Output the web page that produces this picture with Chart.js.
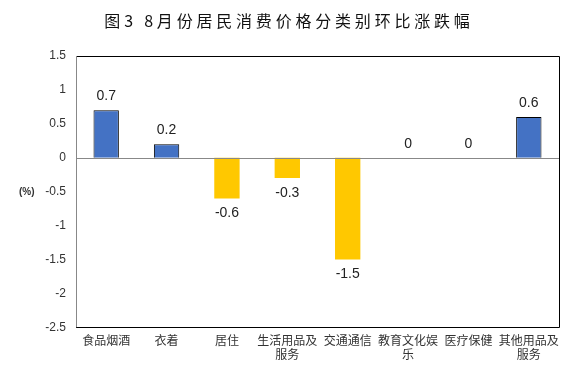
<!DOCTYPE html>
<html>
<head>
<meta charset="utf-8">
<script src="https://cdn.jsdelivr.net/npm/chart.js@4/dist/chart.umd.min.js"></script>
<style>
  html, body { margin: 0; padding: 0; background: #fff; }
  #wrap { width: 574px; height: 374px; }
</style>
</head>
<body>
<div id="wrap"><canvas id="chart"></canvas></div>
<script>
const titleText = "图3 8月份居民消费价格分类别环比涨跌幅";
const categories = [
  "食品烟酒", "衣着", "居住", ["生活用品及", "服务"],
  "交通通信", ["教育文化娱", "乐"], "医疗保健", ["其他用品及", "服务"]
];
const values = [0.7, 0.2, -0.6, -0.3, -1.5, 0, 0, 0.6];
const yTicks = [1.5, 1, 0.5, 0, -0.5, -1, -1.5, -2, -2.5];

const numFont = "'Liberation Sans', Arial, sans-serif";
const cjkFont = "'Noto Sans CJK SC', sans-serif";

const barColors = values.map(v => v >= 0 ? "#4472C4" : "#FFC800");
const borderWidths = values.map(v => v > 0 ? 1 : 0);

const extras = {
  id: "extras",
  afterDatasetsDraw(chart) {
    const ctx = chart.ctx;
    const area = chart.chartArea;
    const y = chart.scales.y;
    const meta = chart.getDatasetMeta(0);
    ctx.save();
    // title
    ctx.fillStyle = "#111";
    ctx.font = "16px " + cjkFont;
    ctx.letterSpacing = "3.8px";
    ctx.textAlign = "center";
    ctx.textBaseline = "middle";
    ctx.fillText(titleText, 289, 21);
    ctx.letterSpacing = "0px";
    // zero line
    const y0 = y.getPixelForValue(0);
    ctx.strokeStyle = "#888";
    ctx.lineWidth = 1;
    ctx.beginPath();
    ctx.moveTo(area.left, Math.round(y0) + 0.5);
    ctx.lineTo(area.right, Math.round(y0) + 0.5);
    ctx.stroke();
    // frame
    ctx.strokeStyle = "#000";
    ctx.beginPath();
    ctx.moveTo(area.left, Math.round(area.top) + 0.5);
    ctx.lineTo(Math.round(area.right) + 0.5, Math.round(area.top) + 0.5);
    ctx.lineTo(Math.round(area.right) + 0.5, Math.round(area.bottom) + 0.5);
    ctx.lineTo(area.left, Math.round(area.bottom) + 0.5);
    ctx.stroke();
    ctx.strokeStyle = "#888";
    ctx.beginPath();
    ctx.moveTo(Math.round(area.left) + 0.5, area.top);
    ctx.lineTo(Math.round(area.left) + 0.5, area.bottom);
    ctx.stroke();
    // value labels
    ctx.fillStyle = "#222";
    ctx.font = "14px " + numFont;
    ctx.textAlign = "center";
    meta.data.forEach((bar, i) => {
      const v = values[i];
      if (v < 0) {
        ctx.textBaseline = "top";
        ctx.fillText(String(v), bar.x, bar.y + 8);
      } else {
        ctx.textBaseline = "bottom";
        ctx.fillText(String(v), bar.x, bar.y - 7);
      }
    });
    // unit label
    ctx.font = "bold 10px " + numFont;
    ctx.textAlign = "left";
    ctx.textBaseline = "middle";
    ctx.fillStyle = "#333";
    ctx.fillText("(%)", 19, y.getPixelForValue(-0.5) + 1);
    ctx.restore();
  }
};

new Chart(document.getElementById("chart"), {
  type: "bar",
  data: {
    labels: categories,
    datasets: [{
      data: values,
      backgroundColor: barColors,
      borderColor: "#000",
      borderWidth: borderWidths,
      barPercentage: 0.42,
      categoryPercentage: 1
    }]
  },
  options: {
    responsive: true,
    maintainAspectRatio: false,
    animation: false,
    layout: { padding: { left: 0, right: 15, top: 56, bottom: 6 } },
    plugins: {
      legend: { display: false },
      tooltip: { enabled: false },
      title: { display: false }
    },
    scales: {
      x: {
        grid: { display: false, drawTicks: false },
        border: { display: false },
        ticks: {
          color: "#333",
          font: { family: cjkFont, size: 12 },
          padding: 6,
          maxRotation: 0,
          autoSkip: false
        }
      },
      y: {
        min: -2.5,
        max: 1.5,
        afterFit(scale) { scale.width = 76; },
        afterBuildTicks(scale) { scale.ticks = yTicks.map(v => ({ value: v })); },
        grid: { display: false, drawTicks: false },
        border: { display: false },
        ticks: {
          color: "#333",
          font: { family: numFont, size: 12 },
          padding: 10,
          callback: (v) => String(v)
        }
      }
    }
  },
  plugins: [extras]
});
</script>
</body>
</html>
